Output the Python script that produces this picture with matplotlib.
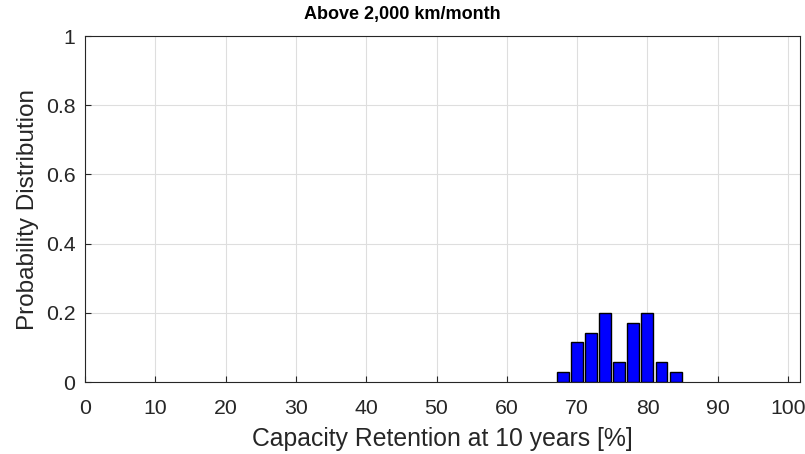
import matplotlib
matplotlib.use("Agg")
import matplotlib.pyplot as plt

plt.rcParams['font.family'] = ['Liberation Sans', 'DejaVu Sans']

bin_centers = [68, 70, 72, 74, 76, 78, 80, 82, 84]
probabilities = [1/35, 4/35, 5/35, 7/35, 2/35, 6/35, 7/35, 2/35, 1/35]
x_ticks = [0, 10, 20, 30, 40, 50, 60, 70, 80, 90, 100]
y_ticks = [0, 0.2, 0.4, 0.6, 0.8, 1]
y_tick_labels = ['0', '0.2', '0.4', '0.6', '0.8', '1']

fig = plt.figure(figsize=(8.05, 4.54), dpi=100)
ax = fig.add_axes([85/805, 1 - 382/454, (800-85)/805, (382-36)/454])

ax.bar(bin_centers, probabilities, width=1.7, color='#0000ff', edgecolor='black', linewidth=1.0, zorder=3)

ax.set_xlim(0, 101.7)
ax.set_ylim(0, 1)
ax.set_xticks(x_ticks)
ax.set_yticks(y_ticks)
ax.set_yticklabels(y_tick_labels)
ax.grid(True, color='#dedede', linewidth=0.8, zorder=0)
ax.set_axisbelow(True)
for s in ax.spines.values():
    s.set_color('#262626')
    s.set_linewidth(0.8)
ax.tick_params(direction='in', length=4, width=0.8, colors='#262626', labelsize=15.3, labelcolor='#262626',
               top=False, right=False)
ax.tick_params(axis='x', pad=12)
ax.tick_params(axis='y', pad=7)

ax.set_xlabel('Capacity Retention at 10 years [%]', fontsize=17.8, color='#262626', labelpad=7)
ax.set_ylabel('Probability Distribution', fontsize=17.5, color='#262626', labelpad=5)
fig.text(0.5, 1 - 15/454, 'Above 2,000 km/month', fontsize=13, fontweight='bold', color='black',
         ha='center', va='center')

fig.savefig('out.png', dpi=100)
